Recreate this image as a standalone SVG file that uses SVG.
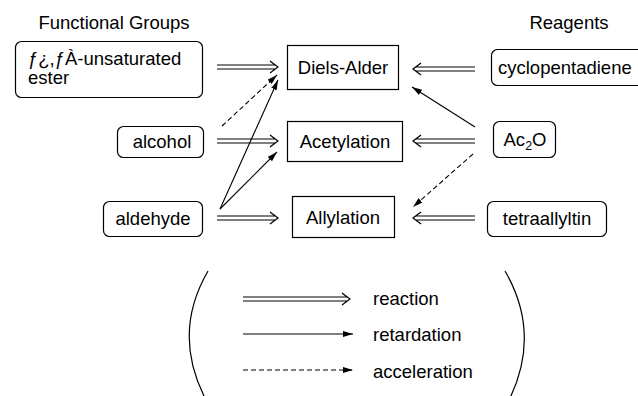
<svg xmlns="http://www.w3.org/2000/svg" width="638" height="396" viewBox="0 0 638 396">
<defs>
<marker id="ah" viewBox="0 0 10 6" refX="10" refY="3" markerWidth="10" markerHeight="6" markerUnits="userSpaceOnUse" orient="auto">
<path d="M0,0 L10,3 L0,6 Z" fill="#000"/>
</marker>
</defs>
<style>
text{font-family:"Liberation Sans",Arial,Helvetica,sans-serif;font-size:18.5px;fill:#000}
.c{text-anchor:middle}
.rb{fill:#fff;stroke:#000;stroke-width:1.2}
.sb{fill:#fff;stroke:#000;stroke-width:1.2}
.dbl{fill:none;stroke:#000;stroke-width:1.2}
.sol{fill:none;stroke:#000;stroke-width:1.1}
.dash{fill:none;stroke:#000;stroke-width:1.1;stroke-dasharray:5 3}
.par{fill:none;stroke:#000;stroke-width:1.2}
</style>
<rect width="638" height="396" fill="#fff"/>
<text class="c" x="114" y="29">Functional Groups</text>
<text class="c" x="569" y="29">Reagents</text>

<g id="ester"><rect class="rb" x="15.5" y="41.5" width="187" height="56" rx="6"/><text x="28" y="65">ƒ¿,ƒÀ-unsaturated</text><text x="28" y="84">ester</text></g>
<g id="alcohol"><rect class="rb" x="117.5" y="126.5" width="86" height="31" rx="6"/><text class="c" x="162" y="148">alcohol</text></g>
<g id="aldehyde"><rect class="rb" x="103.5" y="201.5" width="99" height="35" rx="6"/><text class="c" x="153" y="225">aldehyde</text></g>
<g id="diels-alder"><rect class="sb" x="287.5" y="45.5" width="111" height="44"/><text class="c" x="343" y="74">Diels-Alder</text></g>
<g id="acetylation"><rect class="sb" x="287.5" y="121.5" width="115" height="40"/><text class="c" x="345" y="148">Acetylation</text></g>
<g id="allylation"><rect class="sb" x="292.5" y="196.5" width="102" height="41"/><text class="c" x="343" y="224">Allylation</text></g>
<g id="cyclopentadiene"><rect class="rb" x="491.5" y="49.5" width="160" height="36" rx="6"/><text x="498" y="74">cyclopentadiene</text></g>
<g id="ac2o"><rect class="rb" x="493.5" y="121.5" width="62" height="36" rx="6"/><text class="c" x="525" y="146">Ac<tspan font-size="12.5" dy="4">2</tspan><tspan dy="-4">O</tspan></text></g>
<g id="tetraallyltin"><rect class="rb" x="487.5" y="201.5" width="119" height="35" rx="6"/><text class="c" x="547" y="225">tetraallyltin</text></g>

<g id="connectors">
<path class="dbl" d="M217,65 H276 M217,69 H276 M270,61 L278,67 L270,73"/>
<path class="dbl" d="M217,139 H276 M217,143 H276 M270,135 L278,141 L270,147"/>
<path class="dbl" d="M217,216 H276 M217,220 H276 M270,212 L278,218 L270,224"/>
<path class="dbl" d="M475,67 H415 M475,71 H415 M421,63 L413,69 L421,75"/>
<path class="dbl" d="M475,139 H415 M475,143 H415 M421,135 L413,141 L421,147"/>
<path class="dbl" d="M475,216 H415 M475,220 H415 M421,212 L413,218 L421,224"/>
<path class="dash" d="M222,126 L277,75" marker-end="url(#ah)"/>
<path class="sol" d="M220,209 L278,80" marker-end="url(#ah)"/>
<path class="sol" d="M220,209 L277,152" marker-end="url(#ah)"/>
<path class="sol" d="M475,127 L412,87" marker-end="url(#ah)"/>
<path class="dash" d="M473,154 L413,207" marker-end="url(#ah)"/>
</g>

<g id="legend">
<path class="par" d="M208,271 Q172,333 205,398"/>
<path class="par" d="M505,271 Q541,333 510,398"/>
<path class="dbl" d="M243,297 H348 M243,301 H348 M342,293 L350,299 L342,305"/>
<path class="sol" d="M243,334 H353" marker-end="url(#ah)"/>
<path class="dash" d="M243,370 H353" marker-end="url(#ah)"/>
<text x="373" y="305">reaction</text>
<text x="373" y="341">retardation</text>
<text x="373" y="378">acceleration</text>
</g>
</svg>
